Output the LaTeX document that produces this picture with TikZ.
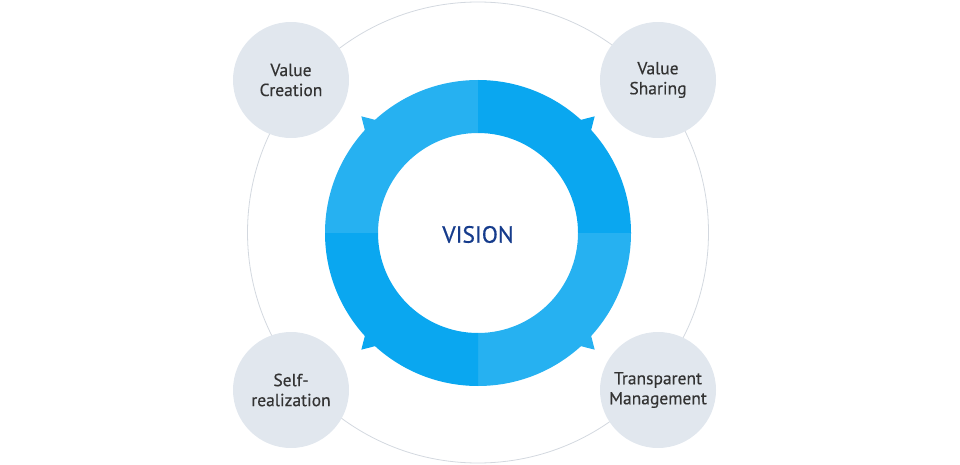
\documentclass[tikz,border=0pt]{standalone}
\usepackage{fontspec}
\setmainfont{PT Sans}
\newfontfamily\labelfont{PT Sans}[FakeBold=0.3]
\newfontfamily\visionfont{PT Sans}[FakeBold=0.6]
\usetikzlibrary{calc}
\definecolor{lightseg}{HTML}{26B1F1}
\definecolor{darkseg}{HTML}{0AA7F0}
\definecolor{bubble}{HTML}{E1E7EE}
\definecolor{orbit}{HTML}{D3D8DF}
\definecolor{labeltext}{HTML}{333333}
\definecolor{visiontext}{HTML}{163C8C}
\begin{document}
\begin{tikzpicture}[x=1pt,y=1pt,
  bubblenode/.style={circle,fill=bubble,minimum size=116pt,inner sep=0pt,align=center,
    text=labeltext,font=\labelfont\fontsize{17.5}{20}\selectfont},
]
\useasboundingbox (0,0) rectangle (960,464);
\coordinate (c) at (478,231);
% outer orbit
\draw[orbit,line width=0.8pt] (478,231.5) circle (230.5);
% ring segments with spikes
\foreach \a/\col in {90/lightseg,0/darkseg,270/lightseg,180/darkseg}{
  \fill[\col] ($(c)+(\a:153)$) arc[start angle=\a,end angle=\a+90,radius=153]
     -- ($(c)+(\a+90:100)$) arc[start angle=\a+90,end angle=\a,radius=100] -- cycle;
  \fill[\col] ($(c)+(\a+45-3.2:151)$) -- ($(c)+(\a+45:165)$) -- ($(c)+(\a+45+3.2:151)$) -- cycle;
}
\node[font=\visionfont\fontsize{23.5}{26}\selectfont,text=visiontext] (vision) at (478,229.5) {VISION};
% bubbles
\node[bubblenode] (vc) at (291,384) {Value\\Creation};
\node[bubblenode] (vs) at (658,384) {Value\\Sharing};
\node[bubblenode] (sr) at (291,74) {Self-\\realization};
\node[bubblenode] (tm) at (658,74) {Transparent\\Management};
\end{tikzpicture}
\end{document}
